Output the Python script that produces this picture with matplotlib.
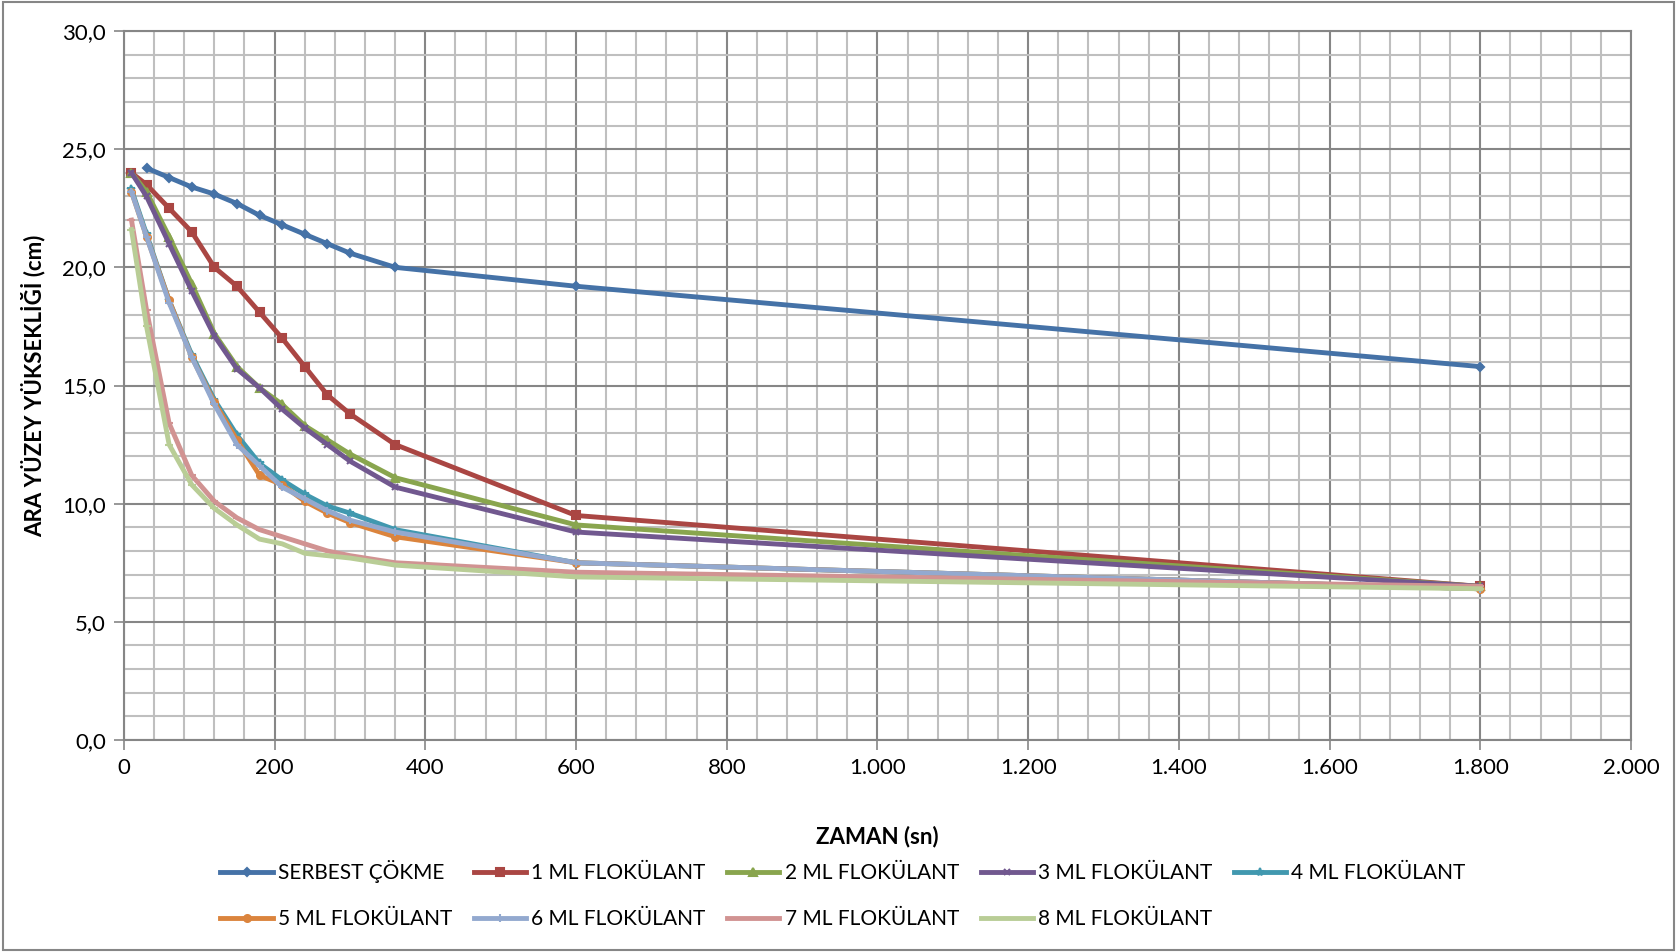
import matplotlib
matplotlib.use('Agg')
import matplotlib.pyplot as plt
from matplotlib.ticker import MultipleLocator, FuncFormatter
from matplotlib.patches import Rectangle

plt.rcParams['font.family'] = ['Lato', 'DejaVu Sans']

# ==============================
# Data
# ==============================
t_serbest = [30, 60, 90, 120, 150, 180, 210, 240, 270, 300, 360, 600, 1800]
t = [10, 30, 60, 90, 120, 150, 180, 210, 240, 270, 300, 360, 600, 1800]

serbest = [24.2, 23.8, 23.4, 23.1, 22.7, 22.2, 21.8, 21.4, 21.0, 20.6, 20.0, 19.2, 15.8]
ml1 = [24.0, 23.5, 22.5, 21.5, 20.0, 19.2, 18.1, 17.0, 15.8, 14.6, 13.8, 12.5, 9.5, 6.5]
ml2 = [24.0, 23.2, 21.3, 19.3, 17.2, 15.8, 14.9, 14.2, 13.3, 12.7, 12.1, 11.1, 9.1, 6.5]
ml3 = [24.0, 23.0, 21.0, 19.0, 17.1, 15.7, 14.9, 14.0, 13.2, 12.5, 11.8, 10.7, 8.8, 6.5]
ml4 = [23.3, 21.4, 18.6, 16.3, 14.4, 12.9, 11.7, 11.0, 10.4, 9.9, 9.6, 8.9, 7.5, 6.4]
ml5 = [23.2, 21.3, 18.6, 16.2, 14.3, 12.7, 11.2, 10.8, 10.1, 9.6, 9.2, 8.6, 7.5, 6.4]
ml6 = [23.2, 21.3, 18.5, 16.2, 14.2, 12.5, 11.6, 10.7, 10.2, 9.7, 9.3, 8.8, 7.5, 6.4]
ml7 = [22.0, 18.2, 13.4, 11.2, 10.1, 9.4, 8.9, 8.6, 8.3, 8.0, 7.8, 7.5, 7.1, 6.5]
ml8 = [21.6, 17.5, 12.5, 10.8, 9.8, 9.1, 8.5, 8.3, 7.9, 7.8, 7.7, 7.4, 6.9, 6.4]

labels = ['SERBEST ÇÖKME', '1 ML FLOKÜLANT', '2 ML FLOKÜLANT', '3 ML FLOKÜLANT',
          '4 ML FLOKÜLANT', '5 ML FLOKÜLANT', '6 ML FLOKÜLANT', '7 ML FLOKÜLANT',
          '8 ML FLOKÜLANT']
colors = ['#4572A7', '#AA4643', '#89A54E', '#71588F', '#4198AF',
          '#DB843D', '#93A9CF', '#D19392', '#B9CD96']
markers = ['D', 's', '^', 'x', '*', 'o', '+', '_', '_']
msizes = [4.5, 6, 5.5, 5, 6, 5, 6, 6, 6]

series = [(t_serbest, serbest), (t, ml1), (t, ml2), (t, ml3), (t, ml4),
          (t, ml5), (t, ml6), (t, ml7), (t, ml8)]

# ==============================
# Plot
# ==============================
fig = plt.figure(figsize=(16.77, 9.52), dpi=100)
ax = fig.add_axes([0.0739, 0.2227, 0.8987, 0.7447])

handles = []
for (x, y), lab, c, m, ms in zip(series, labels, colors, markers, msizes):
    h, = ax.plot(x, y, color=c, lw=3.5, marker=m, markersize=ms,
                 markeredgecolor=c, markerfacecolor=c, mew=1.5, label=lab)
    handles.append(h)

ax.set_xlim(0, 2000)
ax.set_ylim(0, 30)
ax.xaxis.set_major_locator(MultipleLocator(200))
ax.xaxis.set_minor_locator(MultipleLocator(40))
ax.yaxis.set_major_locator(MultipleLocator(5))
ax.yaxis.set_minor_locator(MultipleLocator(1))

ax.xaxis.set_major_formatter(FuncFormatter(lambda v, p: f'{int(v):,}'.replace(',', '.')))
ax.yaxis.set_major_formatter(FuncFormatter(lambda v, p: f'{v:.1f}'.replace('.', ',')))

ax.grid(which='major', color='#868686', lw=1.5)
ax.grid(which='minor', color='#BFBFBF', lw=1.5)
ax.set_axisbelow(True)
ax.tick_params(which='major', labelsize=16, length=7, width=1.2, color='#868686', pad=6)
ax.tick_params(which='minor', length=0)
for s in ax.spines.values():
    s.set_color('#868686')
    s.set_linewidth(1.5)

ax.set_xlabel('ZAMAN (sn)', fontsize=16, fontweight='bold', labelpad=34)
ax.set_ylabel('ARA YÜZEY YÜKSEKLİĞİ (cm)', fontsize=16, fontweight='bold', labelpad=12)

# row-major order for a 5 column legend
order = [0, 5, 1, 6, 2, 7, 3, 8, 4]
ax.legend([handles[i] for i in order], [labels[i] for i in order],
          ncol=5, loc='upper left', bbox_to_anchor=(0.1265, 0.105),
          bbox_transform=fig.transFigure, frameon=False, fontsize=15,
          handlelength=2.5, handletextpad=0.25, columnspacing=1.05, labelspacing=1.25,
          borderaxespad=0)

fig.patches.append(Rectangle((0.002, 0.002), 0.996, 0.996, transform=fig.transFigure,
                             fill=False, edgecolor='#868686', lw=1.5))

fig.savefig('out.png', dpi=100)
